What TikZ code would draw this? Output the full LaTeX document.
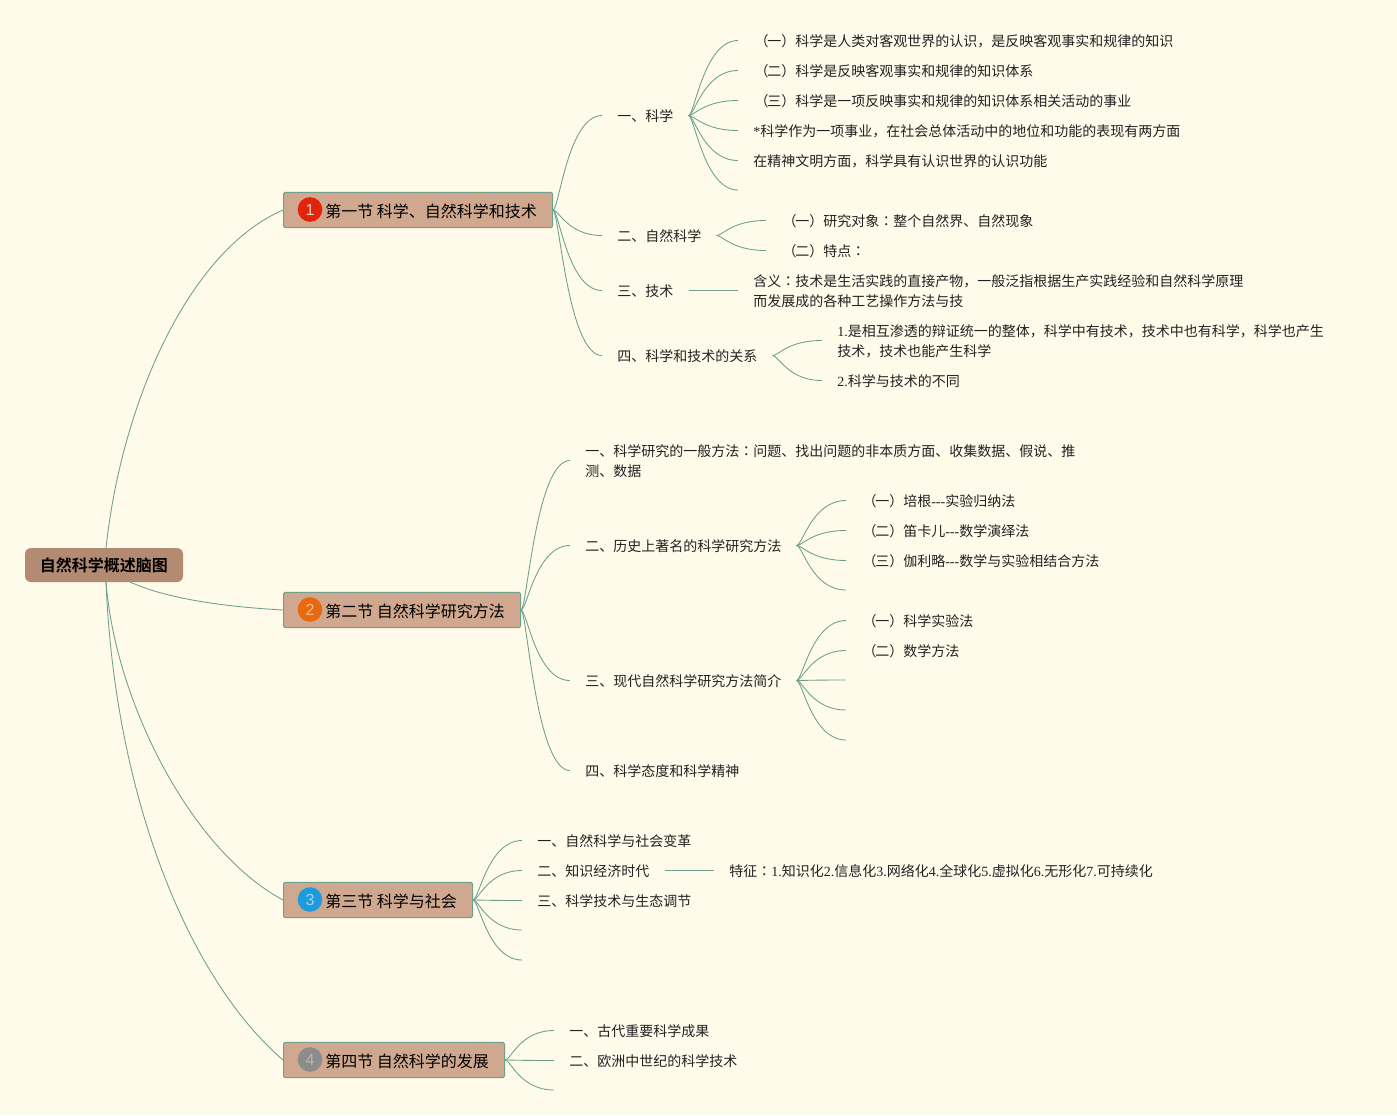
\documentclass[tikz,border=0pt]{standalone}
\usepackage{fontspec}
\setmainfont{Noto Sans CJK SC}
\newfontfamily\cjk{Noto Sans CJK SC}
\newfontfamily\cjkjp{Noto Sans CJK JP}
\newfontfamily\cjkb[BoldFont={Noto Sans CJK SC Bold}]{Noto Sans CJK SC}
\newfontfamily\lat{Liberation Serif}
\newfontfamily\numf{Liberation Sans}
\newcommand{\La}[1]{{\lat #1}}
\newcommand{\Cz}{{\cjkjp ：}}
\newcommand{\Lp}{\makebox[10.5pt][l]{\hspace{1pt}{\cjkjp （}}}
\newcommand{\Rp}{{\cjkjp ）}}
\definecolor{bgc}{HTML}{FEFBEA}
\definecolor{linec}{HTML}{6FA08E}
\definecolor{rootc}{HTML}{B38B72}
\definecolor{secc}{HTML}{CFA88F}
\definecolor{txtc}{HTML}{222222}
\tikzset{
  item/.style={anchor=west,inner xsep=11.25pt,inner ysep=0pt,align=left,text=txtc,yshift=-0.6pt,
    font=\fontsize{10.5pt}{15pt}\selectfont},
  sec/.style={draw=linec,fill=secc,line width=0.75pt,rounded corners=1.5pt,anchor=west,
    minimum height=26.5pt,inner sep=0pt},
  seclabel/.style={anchor=west,inner sep=0pt,text=black,font=\fontsize{12pt}{15pt}\selectfont},
  ico/.style={circle,inner sep=0pt,minimum size=18.5pt,font=\numf\fontsize{12pt}{14pt}\selectfont},
  link/.style={draw=linec,line width=0.65pt},
  branch/.style={link,to path={.. controls +(6,0) and +(-34,0) .. (\tikztotarget)}}
}
\begin{document}
\begin{tikzpicture}[x=0.75pt,y=-0.75pt]
\fill[bgc] (0,0) rectangle (1397,1115);
\useasboundingbox (0,0) rectangle (1397,1115);

% root
\node[fill=rootc,rounded corners=4.5pt,minimum width=118.5pt,minimum height=25.5pt,inner sep=0pt,
  font=\cjkb\bfseries\fontsize{12pt}{15pt}\selectfont,text=black] (root) at (104,565) {\raisebox{-0.8pt}{自然科学概述脑图}};
\coordinate (roott) at (106,548);
\coordinate (rootm) at (106,582);
\coordinate (rootb) at (130,582);

% sections
\node[sec,minimum width=201.75pt] (s1) at (283,210) {};
\node[sec,minimum width=177.75pt] (s2) at (283,610) {};
\node[sec,minimum width=141.75pt] (s3) at (283,900) {};
\node[sec,minimum width=165.75pt] (s4) at (283,1060) {};
\node[ico,fill={rgb,255:red,224;green,35;blue,10},text={rgb,255:red,248;green,205;blue,185}] (i1) at (310,209.5) {1};
\node[ico,fill={rgb,255:red,232;green,105;blue,15},text={rgb,255:red,248;green,185;blue,130}] (i2) at (310,609.5) {2};
\node[ico,fill={rgb,255:red,30;green,155;blue,220},text={rgb,255:red,160;green,212;blue,240}] (i3) at (310,899.5) {3};
\node[ico,fill={rgb,255:red,140;green,140;blue,140},text={rgb,255:red,190;green,185;blue,175}] (i4) at (310,1059.5) {4};
\node[seclabel] (t1) at (325,211) {第一节 科学、自然科学和技术};
\node[seclabel] (t2) at (325,611) {第二节 自然科学研究方法};
\node[seclabel] (t3) at (325,901) {第三节 科学与社会};
\node[seclabel] (t4) at (325,1061) {第四节 自然科学的发展};

% section 1
\node[item] (a1) at (602,115.5) {一、科学};
\node[item] (a2) at (602,235.5) {二、自然科学};
\node[item] (a3) at (602,290.5) {三、技术};
\node[item] (a4) at (602,355.5) {四、科学和技术的关系};
\node[item] (c11) at (738,40.5) {\Lp 一\Rp 科学是人类对客观世界的认识，是反映客观事实和规律的知识};
\node[item] (c12) at (738,70.5) {\Lp 二\Rp 科学是反映客观事实和规律的知识体系};
\node[item] (c13) at (738,100.5) {\Lp 三\Rp 科学是一项反映事实和规律的知识体系相关活动的事业};
\node[item] (c14) at (738,130.5) {\La{*}科学作为一项事业，在社会总体活动中的地位和功能的表现有两方面};
\node[item] (c15) at (738,160.5) {在精神文明方面，科学具有认识世界的认识功能};
\coordinate (c16) at (738,190);
\node[item] (c21) at (766,220.5) {\Lp 一\Rp 研究对象\Cz 整个自然界、自然现象};
\node[item] (c22) at (766,250.5) {\Lp 二\Rp 特点\Cz};
\node[item] (c31) at (738,290.5) {含义\Cz 技术是生活实践的直接产物，一般泛指根据生产实践经验和自然科学原理\\而发展成的各种工艺操作方法与技};
\node[item] (c41) at (822,340.5) {\La{1.}是相互渗透的辩证统一的整体，科学中有技术，技术中也有科学，科学也产生\\技术，技术也能产生科学};
\node[item] (c42) at (822,380.5) {\La{2.}科学与技术的不同};

% section 2
\node[item] (b1) at (570,460.5) {一、科学研究的一般方法\Cz 问题、找出问题的非本质方面、收集数据、假说、推\\测、数据};
\node[item] (b2) at (570,545.5) {二、历史上著名的科学研究方法};
\node[item] (b3) at (570,680.5) {三、现代自然科学研究方法简介};
\node[item] (b4) at (570,770.5) {四、科学态度和科学精神};
\node[item] (d21) at (846,500.5) {\Lp 一\Rp 培根\La{-{}-{}-}实验归纳法};
\node[item] (d22) at (846,530.5) {\Lp 二\Rp 笛卡儿\La{-{}-{}-}数学演绎法};
\node[item] (d23) at (846,560.5) {\Lp 三\Rp 伽利略\La{-{}-{}-}数学与实验相结合方法};
\coordinate (d24) at (846,590);
\node[item] (d31) at (846,620.5) {\Lp 一\Rp 科学实验法};
\node[item] (d32) at (846,650.5) {\Lp 二\Rp 数学方法};
\coordinate (d33) at (846,680);
\coordinate (d34) at (846,710);
\coordinate (d35) at (846,740);

% section 3
\node[item] (e1) at (522,840.5) {一、自然科学与社会变革};
\node[item] (e2) at (522,870.5) {二、知识经济时代};
\node[item] (e3) at (522,900.5) {三、科学技术与生态调节};
\coordinate (e4) at (522,930);
\coordinate (e5) at (522,960);
\node[item] (e21) at (714,870.5) {特征\Cz\La{1.}知识化\La{2.}信息化\La{3.}网络化\La{4.}全球化\La{5.}虚拟化\La{6.}无形化\La{7.}可持续化};

% section 4
\node[item] (f1) at (554,1030.5) {一、古代重要科学成果};
\node[item] (f2) at (554,1060.5) {二、欧洲中世纪的科学技术};
\coordinate (f3) at (554,1090);

% root links
\draw[link] (roott) .. controls (122,400) and (190,250) .. (s1.west);
\draw[link] (rootb) .. controls (170,600) and (230,607) .. (s2.west);
\draw[link] (rootm) .. controls (115,700) and (190,850) .. (s3.west);
\draw[link] (rootm) .. controls (115,800) and (190,980) .. (s4.west);

% branches
\foreach \p/\q in {a1/c11,a1/c12,a1/c13,a1/c14,a1/c15,a2/c21,a2/c22,a4/c41,a4/c42,
  b2/d21,b2/d22,b2/d23,b3/d31,b3/d32}
  \draw[branch] ([yshift=0.6pt]\p.east) to ([yshift=0.6pt]\q.west);
\foreach \p/\q in {s1/a1,s1/a2,s1/a3,s1/a4,s2/b1,s2/b2,s2/b3,s2/b4,s3/e1,s3/e2,s3/e3,s4/f1,s4/f2}
  \draw[branch] (\p.east) to ([yshift=0.6pt]\q.west);
\foreach \p/\q in {a1/c16,b2/d24,b3/d33,b3/d34,b3/d35}
  \draw[branch] ([yshift=0.6pt]\p.east) to (\q);
\foreach \p/\q in {s3/e4,s3/e5,s4/f3}
  \draw[branch] (\p.east) to (\q);
\draw[link] ([yshift=0.6pt]a3.east) -- ([yshift=0.6pt]c31.west);
\draw[link] ([yshift=0.6pt]e2.east) -- ([yshift=0.6pt]e21.west);
\end{tikzpicture}
\end{document}
